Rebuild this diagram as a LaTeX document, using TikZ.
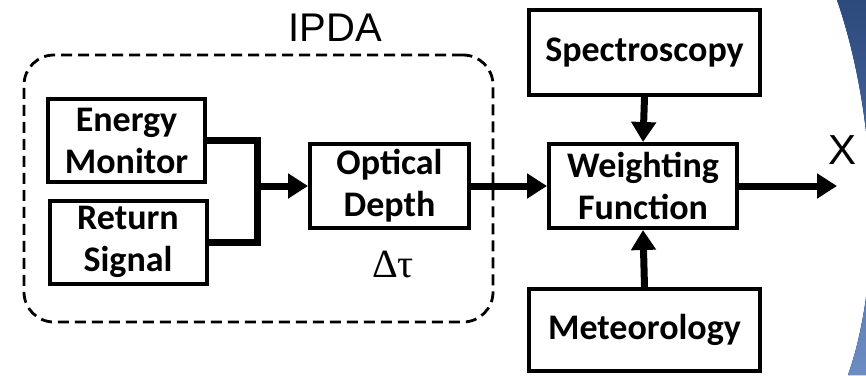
\documentclass[tikz,border=0pt]{standalone}
\usepackage{fontspec}
\setmainfont{Carlito}
\newfontfamily\arialfont{Liberation Sans}
\newfontfamily\seriffont{Liberation Serif}
\usetikzlibrary{arrows.meta}
\definecolor{slideblue}{RGB}{44,74,124}
\definecolor{slidelight}{RGB}{108,140,196}

\tikzset{
  block/.style={draw, line width=2pt, align=center, inner sep=0pt,
    font=\bfseries\fontsize{18}{21}\selectfont},
  link/.style={line width=3.5pt, -{Triangle[length=10pt,width=12pt]}},
  ipdabox/.style={draw, line width=1.4pt, dash pattern=on 5.5pt off 3pt, rounded corners=15pt}
}

\begin{document}
\begin{tikzpicture}[x=0.5pt,y=-0.5pt]
\useasboundingbox (0,0) rectangle (866,375);
% slide background
\fill [top color=slideblue, bottom color=slidelight] (837,0) .. controls (875,110) and (885,270) .. (848,375) -- (870,375) -- (870,0) -- cycle;

\node [ipdabox, minimum width=234.5pt, minimum height=133.5pt] (ipda) at (258.5,188.5) {};
\node [font=\arialfont\fontsize{20}{20}\selectfont] (ipdalabel) at (335,28) {IPDA};

\node [block, minimum width=78.5pt, minimum height=41.5pt] (energy) at (126.5,140.5) {Energy\\Monitor};
\node [block, minimum width=78.5pt, minimum height=41.5pt] (return) at (128,242) {Return\\Signal};
\node [block, minimum width=79.5pt, minimum height=42pt] (optical) at (389.5,186) {Optical\\Depth};
\node (dtau) at (393,264) {\seriffont\fontsize{20}{20}\selectfont Δτ};
\node [block, minimum width=94pt, minimum height=42pt] (weight) at (643,186) {Weighting\\Function};
\node [block, minimum width=115.5pt, minimum height=42.5pt] (spectro) at (644.5,52.5) {Spectroscopy};
\node [block, minimum width=115.5pt, minimum height=41pt] (meteo) at (644.5,330) {Meteorology};
\node [font=\arialfont\fontsize{21}{21}\selectfont] (xlabel) at (842,150) {X};

\coordinate (join) at (257,186);
\coordinate (out) at (837,186);

\draw [line width=3.5pt, line join=miter] (energy.east) -| (join) |- (return.east);
\draw [link] (join) -- (optical.west);
\draw [link] (optical.east) -- (weight.west);
\draw [link] (spectro.south) -- (weight.north);
\draw [link] (meteo.north) -- (weight.south);
\draw [link] (weight.east) -- (out);
\end{tikzpicture}
\end{document}
